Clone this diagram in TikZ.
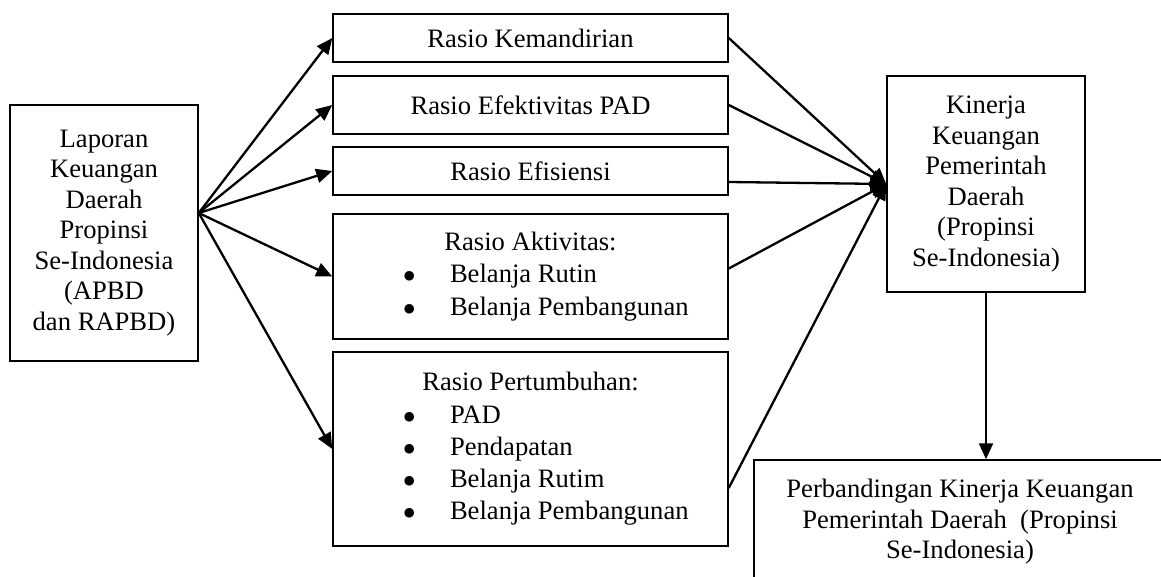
\documentclass[tikz,border=0pt]{standalone}
\usepackage{fontspec}
\setmainfont{Liberation Serif}
\usetikzlibrary{arrows.meta}
\newcommand{\bul}[1]{\makebox[395pt][l]{\makebox[117pt][l]{\hspace*{70pt}$\bullet$}#1}}
\begin{document}
\begin{tikzpicture}[x=1pt,y=-1pt,
  box/.style={draw,line width=1.5pt,inner sep=0pt,align=center,
    font=\fontsize{26.6}{30.5}\selectfont},
  listbox/.style={draw,line width=1.5pt,inner sep=0pt,align=left,
    font=\fontsize{26.6}{32.3}\selectfont},
  conn/.style={line width=2.3pt,-{Triangle[length=16pt,width=14pt]}}]
\useasboundingbox (0,0) rectangle (1161,577);
\node[box,minimum width=188pt,minimum height=256pt] (lap) at (104,233)
  {Laporan\\Keuangan\\Daerah\\Propinsi\\Se-Indonesia\\(APBD\\dan RAPBD)};
\node[box,minimum width=395pt,minimum height=48pt] (k1) at (530.5,38) {Rasio Kemandirian};
\node[box,minimum width=395pt,minimum height=58pt] (k2) at (530.5,105) {Rasio Efektivitas PAD};
\node[box,minimum width=395pt,minimum height=48pt] (k3) at (530.5,171) {Rasio Efisiensi};
\node[listbox,minimum height=125pt] (k4) at (530.5,276.5)
  {\makebox[395pt]{Rasio Aktivitas:}\\\bul{Belanja Rutin}\\\bul{Belanja Pembangunan}};
\node[listbox,minimum height=194pt] (k5) at (530.5,449)
  {\makebox[395pt]{Rasio Pertumbuhan:}\\\bul{PAD}\\\bul{Pendapatan}\\\bul{Belanja Rutim}\\\bul{Belanja Pembangunan}};
\node[box,minimum width=198pt,minimum height=216pt] (kin) at (986,184)
  {Kinerja\\Keuangan\\Pemerintah\\Daerah\\(Propinsi\\Se-Indonesia)};
\node[box,minimum width=412pt,minimum height=124pt] (pb) at (960,522)
  {Perbandingan Kinerja Keuangan\\Pemerintah Daerah\ \ (Propinsi\\Se-Indonesia)};
\coordinate (src) at ([yshift=20pt]lap.east);
\draw[conn] (src) -- (k1.west);
\draw[conn] (src) -- (k2.west);
\draw[conn] (src) -- (k3.west);
\draw[conn] (src) -- (k4.west);
\draw[conn] (src) -- (k5.west);
\draw[conn] (k1.east) -- (kin.west);
\draw[conn] (k2.east) -- (kin.west);
\draw[conn] ([yshift=-11pt]k3.east) -- (kin.west);
\draw[conn] ([yshift=8pt]k4.east) -- (kin.west);
\draw[conn] ([yshift=-39pt]k5.east) -- (kin.west);
\draw[conn] (kin.south) -- (kin.south |- pb.north);
\end{tikzpicture}
\end{document}
